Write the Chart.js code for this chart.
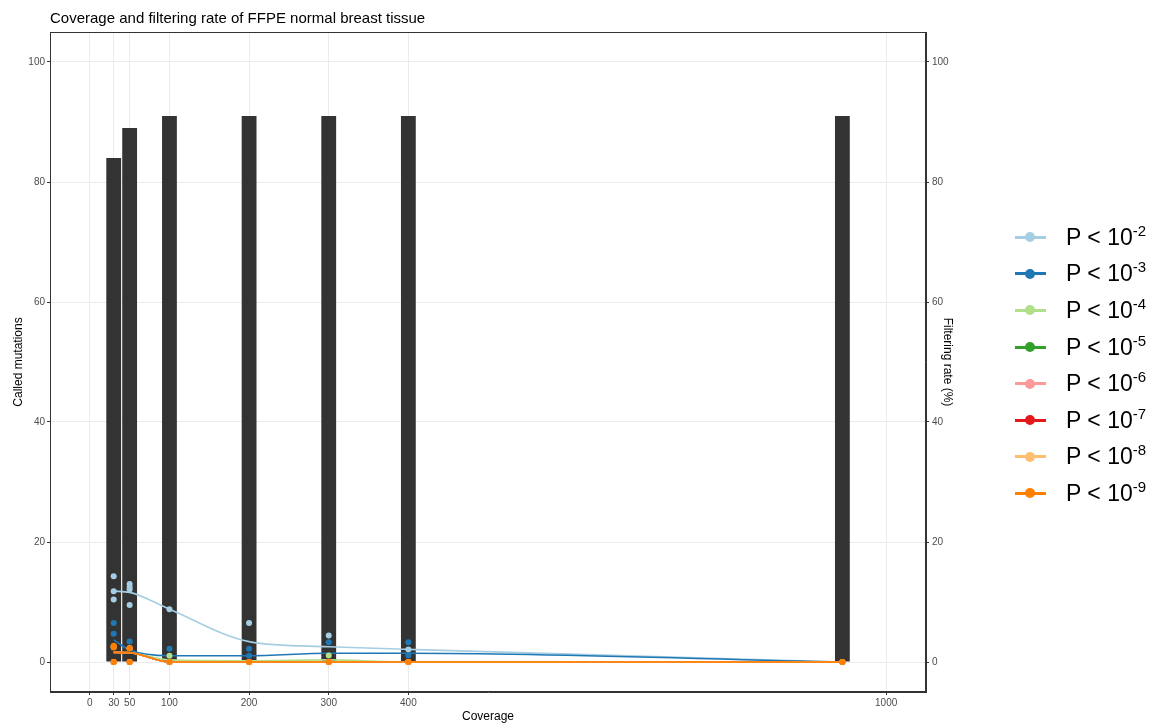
<!DOCTYPE html>
<html>
<head>
<meta charset="utf-8">
<script src="https://cdn.jsdelivr.net/npm/chart.js@4.4.0/dist/chart.umd.min.js"></script>
<style>
  html, body { margin: 0; padding: 0; background: #fff; }
  #wrap { position: relative; width: 1160px; height: 724px; }
  #legend { position: absolute; left: 1010px; top: 219px; font-family: "Liberation Sans", Arial, sans-serif; color: #000; }
  .row { height: 36.6px; display: flex; align-items: center; }
  .key { position: relative; width: 40px; height: 12px; margin-right: 16px; }
  .key .ln { position: absolute; left: 5px; top: 4.5px; width: 31px; height: 3px; }
  .key .dot { position: absolute; left: 15px; top: 1px; width: 10px; height: 10px; border-radius: 50%; }
  .lbl { font-size: 23px; line-height: 23px; }
  .lbl sup { font-size: 15px; vertical-align: 9px; line-height: 0; }
</style>
</head>
<body>
<div id="wrap">
  <canvas id="chart" width="1160" height="724"></canvas>
  <div id="legend"></div>
</div>
<script>
// coverage on the x axis and filtering rate (bars, right axis)
const coverage = [30, 50, 100, 200, 300, 400, 945];
const filteringRate = [84, 89, 91, 91, 91, 91, 91];

const xTicks = [0, 30, 50, 100, 200, 300, 400, 1000];
const yTicks = [0, 20, 40, 60, 80, 100];

// thresholds, legend exponents and colours
const exponents = ["-2", "-3", "-4", "-5", "-6", "-7", "-8", "-9"];
const colors = ["#A6CEE3", "#1F78B4", "#B2DF8A", "#33A02C", "#FB9A99", "#E31A1C", "#FDBF6F", "#FF7F00"];

// summary line per threshold (called mutations at each coverage)
const lineP2 = [11.8, 11.6, 8.8, 3.4, 2.55, 2.1, 0];
const lineP3 = [3.7, 2.0, 1.05, 1.05, 1.45, 1.45, 0];
const lineP4 = [1.6, 1.55, 0.35, 0.2, 0.35, 0, 0];
const lineP5 = [1.6, 1.55, 0, 0, 0, 0, 0];
const lineP6 = [1.6, 1.55, 0, 0, 0, 0, 0];
const lineP7 = [1.6, 1.55, 0, 0, 0, 0, 0];
const lineP8 = [1.6, 1.55, 0, 0, 0, 0, 0];
const lineP9 = [1.6, 1.55, 0, 0, 0, 0, 0];

// individual samples: [coverage, called mutations]
const pointsP2 = [[30, 14.3], [30, 11.8], [30, 10.4], [50, 13.0], [50, 12.5], [50, 12.1], [50, 9.5],
                  [100, 8.8], [200, 6.5], [300, 4.4], [400, 2.1], [945, 0]];
const pointsP3 = [[30, 6.5], [30, 4.7], [50, 3.4], [100, 2.2], [200, 2.2], [200, 1.05],
                  [300, 3.3], [400, 3.3], [400, 1.1], [945, 0]];
const pointsP4 = [[30, 2.5], [50, 2.3], [100, 1.05], [200, 0], [300, 1.1], [400, 0], [945, 0]];
const pointsP5 = [[30, 2.5], [30, 0], [50, 2.3], [50, 0], [100, 0], [200, 0], [300, 0], [400, 0], [945, 0]];
const pointsP6 = [[30, 2.5], [30, 0], [50, 2.3], [50, 0], [100, 0], [200, 0], [300, 0], [400, 0], [945, 0]];
const pointsP7 = [[30, 2.6], [30, 0], [50, 2.3], [50, 0], [100, 0], [200, 0], [300, 0], [400, 0], [945, 0]];
const pointsP8 = [[30, 2.6], [30, 0], [50, 2.3], [50, 0], [100, 0], [200, 0], [300, 0], [400, 0], [945, 0]];
const pointsP9 = [[30, 2.7], [30, 2.4], [30, 0], [50, 2.3], [50, 0], [100, 0], [200, 0], [300, 0], [400, 0], [945, 0]];

const lines = [lineP2, lineP3, lineP4, lineP5, lineP6, lineP7, lineP8, lineP9];
const points = [pointsP2, pointsP3, pointsP4, pointsP5, pointsP6, pointsP7, pointsP8, pointsP9];

const FONT = "'Liberation Sans', Arial, sans-serif";

// build datasets
const datasets = [];
datasets.push({
    type: "bar",
    label: "Filtering rate",
    data: coverage.map((c, i) => ({ x: c, y: filteringRate[i] })),
    backgroundColor: "#333333",
    categoryPercentage: 1,
    barPercentage: 0.93,
    yAxisID: "y2",
    order: 50
});
lines.forEach((vals, i) => {
    datasets.push({
        type: "line",
        label: "line " + exponents[i],
        data: coverage.map((c, j) => ({ x: c, y: vals[j] })),
        borderColor: colors[i],
        borderWidth: 1.6,
        pointRadius: 0,
        cubicInterpolationMode: "monotone",
        fill: false,
        yAxisID: "y",
        order: 20 + (7 - i)
    });
});
points.forEach((pts, i) => {
    datasets.push({
        type: "scatter",
        label: "points " + exponents[i],
        data: pts.map(p => ({ x: p[0], y: p[1] })),
        backgroundColor: colors[i],
        borderWidth: 0,
        pointRadius: 3,
        showLine: false,
        yAxisID: "y",
        order: 7 - i
    });
});

// panel border on top, like theme_bw
const panelBorder = {
    id: "panelBorder",
    afterDatasetsDraw(chart) {
        const a = chart.chartArea;
        const ctx = chart.ctx;
        ctx.save();
        ctx.strokeStyle = "#333333";
        ctx.lineWidth = 1;
        ctx.strokeRect(Math.round(a.left) + 0.5, Math.round(a.top) + 0.5,
                       Math.round(a.right - a.left) - 1, Math.round(a.bottom - a.top) - 1);
        ctx.restore();
    }
};

function setTicks(list) {
    return function(scale) {
        scale.ticks = list.map(v => ({ value: v }));
    };
}

const tickFont = { family: FONT, size: 10 };
const gridStyle = { color: "#EBEBEB", lineWidth: 1, tickColor: "#333333", tickLength: 3 };

new Chart(document.getElementById("chart"), {
    type: "scatter",
    data: { datasets: datasets },
    options: {
        responsive: false,
        animation: false,
        layout: { padding: { left: 0, right: 194, top: 0, bottom: 0 } },
        plugins: {
            legend: { display: false },
            tooltip: { enabled: false },
            title: {
                display: true,
                text: "Coverage and filtering rate of FFPE normal breast tissue",
                align: "start",
                fullSize: false,
                color: "#000",
                font: { family: FONT, size: 15, weight: "normal" },
                padding: { top: 9.5, bottom: 4.5 }
            }
        },
        scales: {
            x: {
                type: "linear",
                min: -50,
                max: 1050,
                offset: false,
                afterBuildTicks: setTicks(xTicks),
                afterFit: (s) => { s.height = 32; },
                grid: Object.assign({ offset: false }, gridStyle),
                border: { color: "#333333" },
                ticks: { color: "#4D4D4D", font: tickFont, padding: 2, maxRotation: 0, autoSkip: false,
                         callback: (v) => String(v) },
                title: { display: true, text: "Coverage", color: "#000",
                         font: { family: FONT, size: 12 }, padding: { top: 0.8, bottom: 0 } }
            },
            y: {
                type: "linear",
                position: "left",
                min: -5,
                max: 105,
                afterBuildTicks: setTicks(yTicks),
                afterFit: (s) => { s.width = 50; },
                grid: gridStyle,
                border: { color: "#333333" },
                ticks: { color: "#4D4D4D", font: tickFont, padding: 2 },
                title: { display: true, text: "Called mutations", color: "#000",
                         font: { family: FONT, size: 12 }, padding: { top: 11, bottom: 0 } }
            },
            y2: {
                type: "linear",
                position: "right",
                min: -5,
                max: 105,
                afterBuildTicks: setTicks(yTicks),
                afterFit: (s) => { s.width = 40; },
                grid: Object.assign({}, gridStyle, { drawOnChartArea: false }),
                border: { color: "#333333" },
                ticks: { color: "#4D4D4D", font: tickFont, padding: 3 },
                title: { display: true, text: "Filtering rate (%)", color: "#000",
                         font: { family: FONT, size: 12 }, padding: { top: 11, bottom: 0 } }
            }
        }
    },
    plugins: [panelBorder]
});

// legend with superscripts
const legend = document.getElementById("legend");
exponents.forEach((e, i) => {
    const row = document.createElement("div");
    row.className = "row";
    row.innerHTML = '<div class="key"><div class="ln" style="background:' + colors[i] + '"></div>' +
        '<div class="dot" style="background:' + colors[i] + '"></div></div>' +
        '<div class="lbl">P &lt; 10<sup>' + e + '</sup></div>';
    legend.appendChild(row);
});
</script>
</body>
</html>
